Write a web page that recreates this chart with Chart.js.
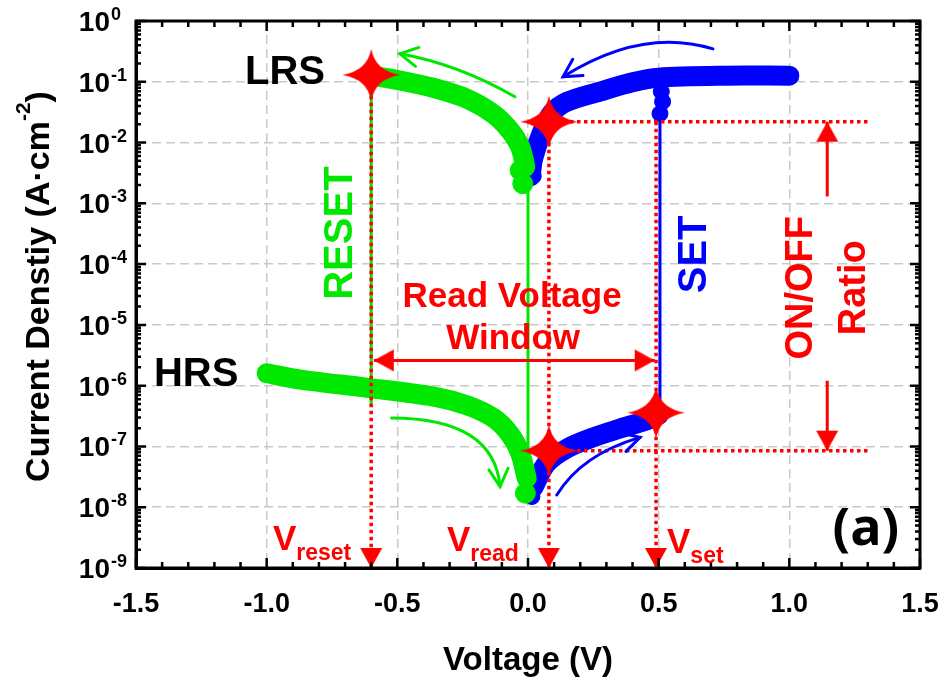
<!DOCTYPE html>
<html lang="en">
<head>
<meta charset="UTF-8">
<title>Current density vs voltage</title>
<script src="https://cdn.jsdelivr.net/npm/chart.js@4"></script>
<style>
    body { margin: 0; background: #fff; }
    #wrap { width: 947px; height: 682px; }
</style>
</head>
<body>
<div id="wrap"><canvas id="jv" width="947" height="682"></canvas></div>
<script>
    // values: V in volts, J in A/cm^2
    const greenLrsV = [-0.01, -0.03, -0.07, -0.13, -0.23, -0.36, -0.50, -0.60];
    const greenLrsJ = [4.0e-3, 8.5e-3, 1.6e-2, 2.9e-2, 5.2e-2, 7.9e-2, 1.07e-1, 1.26e-1];
    const greenHrsV = [-1.0, -0.87, -0.62, -0.36, -0.23, -0.13, -0.07, -0.03, -0.005];
    const greenHrsJ = [1.6e-6, 1.26e-6, 9.3e-7, 6.6e-7, 4.7e-7, 2.9e-7, 1.6e-7, 7.8e-8, 3.0e-8];
    const greenResetV = [-0.60, -0.60];
    const greenResetJ = [1.26e-1, 4.7e-7];
    const greenZeroV = [0.0, 0.0];
    const greenZeroJ = [2.1e-3, 3.0e-8];
    const greenDotV = [-0.02, -0.03, -0.01];
    const greenDotJ = [2.1e-3, 3.5e-3, 1.7e-8];

    const blueHrsV = [0.02, 0.07, 0.15, 0.25, 0.35, 0.455, 0.50];
    const blueHrsJ = [2.1e-8, 5.2e-8, 9.3e-8, 1.41e-7, 1.95e-7, 2.7e-7, 3.3e-7];
    const blueLrsV = [1.0, 0.75, 0.50, 0.40, 0.275, 0.15, 0.09, 0.05, 0.02, 0.01];
    const blueLrsJ = [1.26e-1, 1.26e-1, 1.17e-1, 9.8e-2, 6.9e-2, 4.7e-2, 3.0e-2, 1.35e-2, 5.5e-3, 2.8e-3];
    const blueSetV = [0.505, 0.505];
    const blueSetJ = [3.3e-7, 3.0e-2];
    const blueDotV = [0.51, 0.515, 0.505, 0.02, 0.015];
    const blueDotJ = [6.9e-2, 4.7e-2, 3.0e-2, 2.8e-3, 1.5e-8];

    const starV = [-0.60, 0.08, 0.08, 0.49];
    const starJ = [1.3e-1, 2.2e-2, 8.5e-8, 3.6e-7];

    const vReset = -0.60, vRead = 0.08, vSet = 0.49;
    const jOn = 2.2e-2, jOff = 8.5e-8, jFloor = 1e-9;
    const levelEndV = 1.31;
    const ratioV = 1.145;
    const ratioUpJ = [1.3e-3, 2.2e-2];
    const ratioDownJ = [1.2e-6, 8.5e-8];
    const windowJ = 2.6e-6;
    const windowV = [-0.59, 0.485];

    const xTicks = [-1.5, -1.0, -0.5, 0.0, 0.5, 1.0, 1.5];
    const yExps = [0, -1, -2, -3, -4, -5, -6, -7, -8, -9];

    const GREEN = '#00e800', BLUE = '#0000ff', RED = '#ff0000';
    const FONT = "'Liberation Sans', Arial, sans-serif";

    const pts = (xs, ys) => xs.map((v, i) => ({ x: v, y: ys[i] }));

    // triangle head, tip at canvas centre, pointing up (rotate for others)
    function makeHead(len, wid) {
        const c = document.createElement('canvas');
        c.width = 50; c.height = 50;
        const g = c.getContext('2d');
        g.fillStyle = RED;
        g.beginPath();
        g.moveTo(25, 25);
        g.lineTo(25 + wid / 2, 25 + len);
        g.lineTo(25 - wid / 2, 25 + len);
        g.closePath();
        g.fill();
        return c;
    }

    function makeStar() {
        const c = document.createElement('canvas');
        c.width = 64; c.height = 56;
        const g = c.getContext('2d');
        const cx = 32, cy = 28;
        const outer = [[cx, cy - 26], [cx + 29, cy], [cx, cy + 26], [cx - 29, cy]];
        const ctrl = [[4, -4], [4, 4], [-4, 4], [-4, -4]];
        g.fillStyle = RED;
        g.beginPath();
        g.moveTo(outer[0][0], outer[0][1]);
        for (let i = 0; i < 4; i++) {
            const n = outer[(i + 1) % 4];
            g.quadraticCurveTo(cx + ctrl[i][0], cy + ctrl[i][1], n[0], n[1]);
        }
        g.fill();
        return c;
    }

    const head = makeHead(20, 22);
    const star = makeStar();

    const thick = (data, color) => ({
        data, showLine: true, borderColor: color, backgroundColor: color,
        borderWidth: 20, borderCapStyle: 'round', borderJoinStyle: 'round',
        tension: 0.3, pointRadius: 0
    });
    const thin = (data, color) => ({
        data, showLine: true, borderColor: color, borderWidth: 3, pointRadius: 0
    });
    const dotted = (data, withHead) => ({
        data, showLine: true, borderColor: RED, borderWidth: 3.5, borderDash: [3.5, 3.5],
        pointStyle: head, pointRotation: 180, pointRadius: withHead ? [0, 6] : 0
    });
    const solidArrow = (data, radii, rot) => ({
        data, showLine: true, borderColor: RED, borderWidth: 3,
        pointStyle: head, pointRotation: rot, pointRadius: radii
    });
    const dots = (data, color, r) => ({
        data, showLine: false, backgroundColor: color, borderColor: color, pointRadius: r
    });

    // annotation text, placed in data units (V, log10 J)
    const notes = [
        { t: 'LRS', v: -0.93, lj: -0.85, size: 40, color: '#000' },
        { t: 'HRS', v: -1.27, lj: -5.82, size: 40, color: '#000' },
        { t: 'RESET', v: -0.716, lj: -3.49, size: 40, color: GREEN, rot: true },
        { t: 'SET', v: 0.639, lj: -3.84, size: 40, color: BLUE, rot: true },
        { t: 'ON/OFF', v: 1.045, lj: -4.39, size: 38, color: RED, rot: true },
        { t: 'Ratio', v: 1.251, lj: -4.39, size: 38, color: RED, rot: true },
        { t: 'Read Voltage', v: -0.061, lj: -4.54, size: 35, color: RED },
        { t: 'Window', v: -0.057, lj: -5.23, size: 35, color: RED }
    ];
    const subNotes = [
        { main: 'V', sub: 'reset', v: -0.976, lj: -8.70 },
        { main: 'V', sub: 'read', v: -0.310, lj: -8.72 },
        { main: 'V', sub: 'set', v: 0.532, lj: -8.75 }
    ];
    const curves = [
        { color: GREEN, p: [[-0.05, -1.246], [-0.272, -0.705], [-0.49, -0.54]] },
        { color: BLUE, p: [[0.708, -0.459], [0.436, -0.098], [0.134, -0.918]] },
        { color: GREEN, p: [[-0.522, -6.53], [-0.130, -6.533], [-0.107, -7.66]] },
        { color: BLUE, p: [[0.110, -7.80], [0.205, -7.13], [0.429, -6.85]] }
    ];

    const overlay = {
        id: 'overlay',
        afterDatasetsDraw(chart) {
            const { ctx, chartArea: a, scales: { x, y } } = chart;
            const px = v => x.getPixelForValue(v);
            const py = lj => y.getPixelForValue(Math.pow(10, lj));
            ctx.save();

            // curved sweep arrows
            ctx.lineWidth = 3;
            ctx.lineCap = 'round';
            curves.forEach(c => {
                const [p0, cp, p1] = c.p.map(q => [px(q[0]), py(q[1])]);
                ctx.strokeStyle = c.color;
                ctx.beginPath();
                ctx.moveTo(p0[0], p0[1]);
                ctx.quadraticCurveTo(cp[0], cp[1], p1[0], p1[1]);
                ctx.stroke();
                const ang = Math.atan2(p1[1] - cp[1], p1[0] - cp[0]);
                ctx.beginPath();
                ctx.moveTo(p1[0] - 20 * Math.cos(ang - 0.5), p1[1] - 20 * Math.sin(ang - 0.5));
                ctx.lineTo(p1[0], p1[1]);
                ctx.lineTo(p1[0] - 20 * Math.cos(ang + 0.5), p1[1] - 20 * Math.sin(ang + 0.5));
                ctx.stroke();
            });

            // frame and inward ticks
            ctx.lineCap = 'butt';
            ctx.strokeStyle = '#000';
            ctx.lineWidth = 3;
            ctx.strokeRect(a.left, a.top, a.right - a.left, a.bottom - a.top);
            ctx.lineWidth = 2.5;
            ctx.beginPath();
            for (let i = -15; i <= 15; i++) {
                const xx = px(i / 10);
                const len = i % 5 === 0 ? 10 : 6;
                ctx.moveTo(xx, a.bottom); ctx.lineTo(xx, a.bottom - len);
                ctx.moveTo(xx, a.top); ctx.lineTo(xx, a.top + len);
            }
            for (let e = -9; e <= 0; e++) {
                const yy = y.getPixelForValue(Math.pow(10, e));
                ctx.moveTo(a.left, yy); ctx.lineTo(a.left + 10, yy);
                ctx.moveTo(a.right, yy); ctx.lineTo(a.right - 10, yy);
                if (e < 0) {
                    for (let m = 2; m <= 9; m++) {
                        const ym = y.getPixelForValue(m * Math.pow(10, e));
                        ctx.moveTo(a.left, ym); ctx.lineTo(a.left + 5, ym);
                        ctx.moveTo(a.right, ym); ctx.lineTo(a.right - 5, ym);
                    }
                }
            }
            ctx.stroke();

            // tick labels
            ctx.fillStyle = '#000';
            ctx.font = 'bold 27px ' + FONT;
            ctx.textAlign = 'center';
            ctx.textBaseline = 'alphabetic';
            xTicks.forEach(v => ctx.fillText(v.toFixed(1), px(v), a.bottom + 44));
            yExps.forEach(e => {
                const yy = y.getPixelForValue(Math.pow(10, e));
                ctx.font = 'bold 28px ' + FONT;
                ctx.textAlign = 'right';
                ctx.fillText('10', a.left - 26, yy + 10);
                ctx.font = 'bold 18px ' + FONT;
                ctx.textAlign = 'left';
                ctx.fillText(String(e), a.left - 25, yy - 1);
            });

            // axis titles
            ctx.font = 'bold 33px ' + FONT;
            ctx.textAlign = 'center';
            ctx.fillText('Voltage (V)', (a.left + a.right) / 2, 670);
            ctx.save();
            ctx.translate(49, (a.top + a.bottom) / 2 - 8);
            ctx.rotate(-Math.PI / 2);
            const parts = [['Current Denstiy (A\u00b7cm', 34, 0], ['-2', 21, -19], [')', 34, 0]];
            let total = 0;
            parts.forEach(p => { ctx.font = 'bold ' + p[1] + 'px ' + FONT; total += ctx.measureText(p[0]).width; });
            let cx = -total / 2;
            ctx.textAlign = 'left';
            parts.forEach(p => {
                ctx.font = 'bold ' + p[1] + 'px ' + FONT;
                ctx.fillText(p[0], cx, p[2]);
                cx += ctx.measureText(p[0]).width;
            });
            ctx.restore();

            // annotations
            ctx.textBaseline = 'middle';
            notes.forEach(n => {
                ctx.font = 'bold ' + n.size + 'px ' + FONT;
                ctx.fillStyle = n.color;
                ctx.textAlign = 'center';
                if (n.rot) {
                    ctx.save();
                    ctx.translate(px(n.v), py(n.lj));
                    ctx.rotate(-Math.PI / 2);
                    ctx.fillText(n.t, 0, 0);
                    ctx.restore();
                } else {
                    ctx.fillText(n.t, px(n.v), py(n.lj));
                }
            });
            ctx.textBaseline = 'alphabetic';
            ctx.textAlign = 'left';
            ctx.fillStyle = RED;
            subNotes.forEach(n => {
                const x0 = px(n.v), y0 = py(n.lj);
                ctx.font = 'bold 35px ' + FONT;
                ctx.fillText(n.main, x0, y0);
                const w = ctx.measureText(n.main).width;
                ctx.font = 'bold 23px ' + FONT;
                ctx.fillText(n.sub, x0 + w, y0 + 10);
            });
            ctx.fillStyle = '#000';
            ctx.textAlign = 'center';
            ctx.textBaseline = 'middle';
            ctx.font = "bold 52px 'Open Sans', sans-serif";
            ctx.fillText('(a)', px(1.293), py(-8.38));
            ctx.restore();
        }
    };

    new Chart(document.getElementById('jv'), {
        type: 'scatter',
        data: {
            datasets: [
                { data: pts(starV, starJ), showLine: false, pointStyle: star, pointRadius: 20 },
                solidArrow(pts([ratioV, ratioV], ratioUpJ), [0, 6], 0),
                solidArrow(pts([ratioV, ratioV], ratioDownJ), [0, 6], 180),
                solidArrow(pts(windowV, [windowJ, windowJ]), [6, 6], [270, 90]),
                dotted(pts([vReset, vReset], [starJ[0], jFloor]), true),
                dotted(pts([vRead, vRead], [jOn, jFloor]), true),
                dotted(pts([vSet, vSet], [jOn, jFloor]), true),
                dotted(pts([0, levelEndV], [jOn, jOn]), false),
                dotted(pts([0, levelEndV], [jOff, jOff]), false),
                dots(pts(greenDotV, greenDotJ), GREEN, 10),
                thick(pts(greenLrsV, greenLrsJ), GREEN),
                thick(pts(greenHrsV, greenHrsJ), GREEN),
                thin(pts(greenResetV, greenResetJ), GREEN),
                thin(pts(greenZeroV, greenZeroJ), GREEN),
                dots(pts(blueDotV, blueDotJ), BLUE, 8),
                thick(pts(blueHrsV, blueHrsJ), BLUE),
                thick(pts(blueLrsV, blueLrsJ), BLUE),
                thin(pts(blueSetV, blueSetJ), BLUE)
            ]
        },
        options: {
            responsive: false,
            animation: false,
            events: [],
            layout: { padding: { top: 19, right: 27, left: 0, bottom: 0 } },
            plugins: { legend: { display: false }, tooltip: { enabled: false } },
            scales: {
                x: {
                    type: 'linear', min: -1.5, max: 1.5,
                    ticks: { stepSize: 0.5, display: false },
                    grid: { color: '#c9c9c9', lineWidth: 1.5, drawTicks: false },
                    border: { display: true, color: '#000', width: 3, dash: [9, 5] },
                    afterFit: s => { s.height = 114; }
                },
                y: {
                    type: 'logarithmic', min: 1e-9, max: 1,
                    ticks: { display: false },
                    afterBuildTicks: s => { s.ticks = yExps.map(e => ({ value: Math.pow(10, e) })); },
                    grid: { color: '#c9c9c9', lineWidth: 1.5, drawTicks: false },
                    border: { display: true, color: '#000', width: 3, dash: [9, 5] },
                    afterFit: s => { s.width = 136; }
                }
            }
        },
        plugins: [overlay]
    });
</script>
</body>
</html>
